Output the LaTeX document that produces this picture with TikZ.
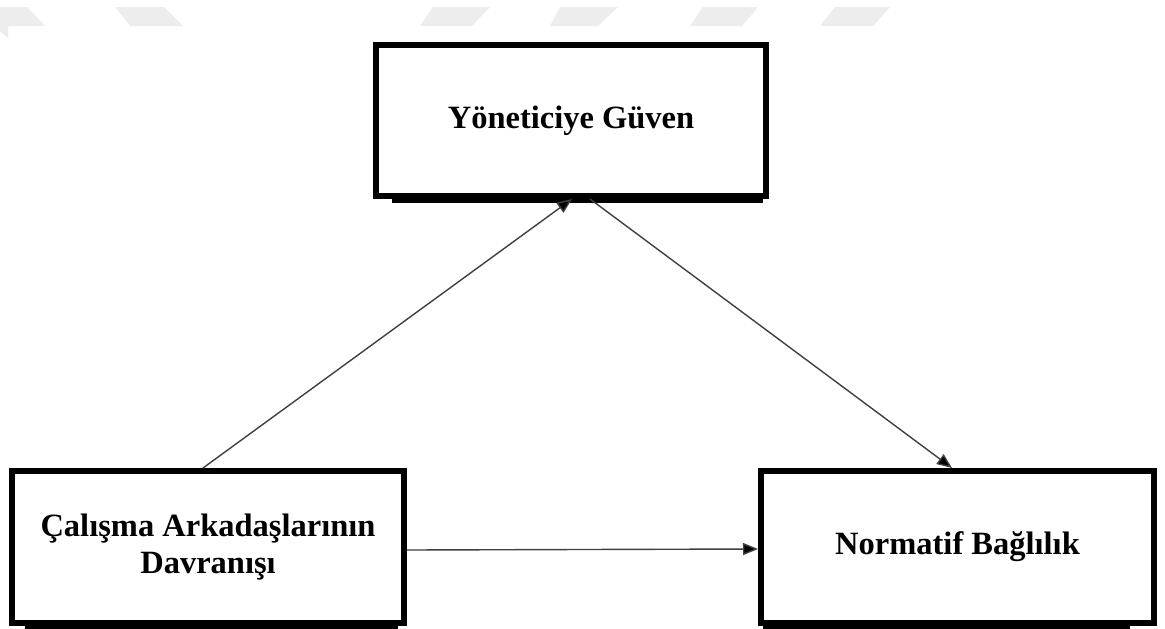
\documentclass[tikz,border=0pt]{standalone}
\usepackage{fontspec}
\setmainfont{Liberation Serif}
\usetikzlibrary{arrows.meta}

\tikzset{
  box/.style={draw=black, line width=6pt, fill=white, outer sep=3pt,
    font=\bfseries\fontsize{32.5}{37}\selectfont, align=center, inner sep=0pt},
  arr/.style={draw=black!75, line width=1.4pt,
    -{Triangle[length=15pt,width=12pt,fill=black]}},
  band/.style={fill=black!7, draw=none}
}

\begin{document}
\begin{tikzpicture}[x=1pt,y=-1pt]
  \useasboundingbox (0,0) rectangle (1165,629);
  \fill[white] (0,0) rectangle (1165,629);

  % light slanted bands along the top edge
  \fill[band] (0,7) -- (27,7) -- (45,26) -- (0,26) -- cycle;
  \fill[band] (0,26) -- (8,26) -- (8,38) -- (0,31) -- cycle;
  \fill[band] (115,7) -- (164,7) -- (183,26) -- (130,26) -- cycle;
  \fill[band] (433,7) -- (490,7) -- (472,26) -- (420,26) -- cycle;
  \fill[band] (560,7) -- (618,7) -- (598,26) -- (550,26) -- cycle;
  \fill[band] (703,7) -- (758,7) -- (742,26) -- (690,26) -- cycle;
  \fill[band] (835,7) -- (890,7) -- (873,26) -- (820,26) -- cycle;

  % boxes
  \node[box, minimum width=390pt, minimum height=151pt] (yg) at (571,120.5) {Yöneticiye Güven};
  \node[box, minimum width=392pt, minimum height=152pt] (cab) at (208,547) {Çalışma Arkadaşlarının\\Davranışı};
  \node[box, minimum width=393pt, minimum height=152pt] (nb) at (957.5,547) {Normatif Bağlılık};

  % heavy strips under the boxes
  \fill[black] ([xshift=19pt]yg.south west) rectangle ([xshift=-6pt,yshift=-4pt]yg.south east);
  \fill[black] ([xshift=16pt]cab.south west) rectangle ([xshift=-9pt,yshift=-3pt]cab.south east);
  \fill[black] ([xshift=5pt]nb.south west) rectangle ([xshift=-27pt,yshift=-3pt]nb.south east);

  % connectors
  \draw[arr] ([xshift=-5pt]cab.north) -- ([xshift=1pt]yg.south);
  \draw[arr] ([xshift=19pt]yg.south) -- ([xshift=-5.5pt]nb.north);
  \draw[arr] ([yshift=-3pt]cab.east) -- ([yshift=-2pt]nb.west);
\end{tikzpicture}
\end{document}
